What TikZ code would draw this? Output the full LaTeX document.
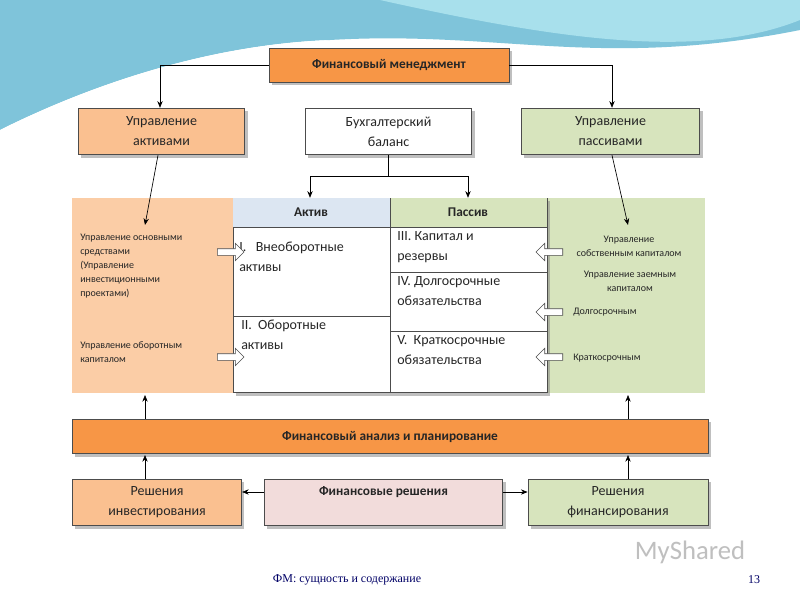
\documentclass[tikz,border=0pt]{standalone}
\usepackage{fontspec}
\setmainfont{Carlito}
\newfontfamily\serf{Liberation Serif}
\usetikzlibrary{shadows,arrows.meta,shapes.arrows}
\definecolor{org}{HTML}{F79646}
\definecolor{lorg}{HTML}{FAC090}
\definecolor{lgrn}{HTML}{D7E4BD}
\definecolor{lblu}{HTML}{DCE6F2}
\definecolor{lpnk}{HTML}{F2DCDB}
\definecolor{txt}{HTML}{262626}
\definecolor{wave1}{HTML}{7FC4DA}
\definecolor{wave2}{HTML}{A8E0EC}
\begin{document}
\begin{tikzpicture}[x=0.75pt,y=-0.75pt,
 box/.style={draw=black!70,line width=0.6pt,drop shadow={shadow xshift=2pt,shadow yshift=-2pt,opacity=0.5},text=txt,align=center,font=\fontsize{10.5}{15}\selectfont,inner sep=0pt},
 arr/.style={-{Stealth[length=5pt,width=4pt]},line width=0.5pt},
 sm/.style={font=\fontsize{7.5}{10.5}\selectfont,text=txt,inner sep=0pt},
 cell/.style={font=\fontsize{10.5}{15}\selectfont,text=txt,align=left,anchor=north west,inner sep=0pt},
 barr/.style={single arrow,draw=black!70,fill=white,minimum height=20pt,minimum width=13pt,single arrow head extend=2pt,inner sep=1pt,line width=0.5pt}]
\useasboundingbox (0,0) rectangle (800,600);
\fill[white] (0,0) rectangle (800,600);
% decorative waves
\fill[wave1] (0,0) -- (800,0) -- (800,30) .. controls (600,70) and (500,30) .. (330,40) .. controls (200,45) and (80,90) .. (0,130) -- cycle;
\fill[wave2] (380,0) -- (800,0) -- (800,20) .. controls (700,60) and (560,40) .. (380,0) -- cycle;
\fill[white] (0,130) .. controls (80,90) and (200,45) .. (330,40) .. controls (250,50) and (120,90) .. (0,150) -- cycle;
% top
\node[box,fill=org,minimum width=180pt,minimum height=25.5pt,font=\bfseries\fontsize{10}{12}\selectfont] (fmb) at (389,65) {Финансовый менеджмент};
\node[box,fill=lorg,minimum width=125pt,minimum height=35pt] (ua) at (161.5,131.5) {Управление\\активами};
\node[box,fill=white,minimum width=125pt,minimum height=35pt] (bb) at (388.5,131.5) {Бухгалтерский\\баланс};
\node[box,fill=lgrn,minimum width=134pt,minimum height=35pt] (up) at (610.5,131.5) {Управление\\пассивами};
\coordinate (fl) at (160,65); \coordinate (fr) at (612,65);
\draw[arr] (fmb.west) -- (fl) -- (ua.north -| fl);
\draw[arr] (fmb.east) -- (fr) -- (up.north -| fr);
% regions
\fill[lorg!80] (72,198) rectangle (233,393);
\fill[lgrn] (547,198) rectangle (705,393);
% table
\node[box,fill=white,minimum width=235.5pt,minimum height=146pt] (tab) at (390,295.5) {};
\fill[lblu] (233.4,198.4) rectangle (390,227);
\fill[lgrn] (390,198.4) rectangle (546.6,227);
\draw[black!70,line width=0.6pt] (233,227) -- (547,227) (390,198) -- (390,393) (233,316) -- (390,316) (390,272) -- (547,272) (390,331) -- (547,331);
\node[font=\bfseries\fontsize{10}{12}\selectfont,text=txt] (ha) at (311,212) {Актив};
\node[font=\bfseries\fontsize{10}{12}\selectfont,text=txt] (hp) at (468,212) {Пассив};
\node[cell] (c1) at (239,242) {I.\ \ \ Внеоборотные\\активы};
\node[cell] (c2) at (241,320) {II.\ \ Оборотные\\активы};
\node[cell] (c3) at (397,231) {III. Капитал и\\резервы};
\node[cell] (c4) at (397,276) {IV. Долгосрочные\\обязательства};
\node[cell] (c5) at (397,335) {V.\ \ Краткосрочные\\обязательства};
\coordinate (bj) at (388,176); \coordinate (bl) at (310,176); \coordinate (br) at (468,176);
\draw[line width=0.5pt] (bb.south -| bj) -- (bj);
\draw[arr] (bl) -- (bl |- tab.north);
\draw[arr] (br) -- (br |- tab.north);
\draw[line width=0.5pt] (bl) -- (br);
\draw[arr] (ua.south -| 158,0) -- (145,225);
\draw[arr] (up.south -| 612,0) -- (628,225);
% side texts
\node[sm,anchor=north west,align=left] (t1) at (80,234) {Управление основными\\средствами\\(Управление\\инвестиционными\\проектами)};
\node[sm,anchor=north west,align=left] (t2) at (80,341) {Управление оборотным\\капиталом};
\node[sm,align=center] (t3) at (629,246) {Управление\\собственным капиталом};
\node[sm,align=center] (t4) at (630,281) {Управление заемным\\капиталом};
\node[sm,anchor=west] (t5) at (573,312) {Долгосрочным};
\node[sm,anchor=west] (t6) at (573,358) {Краткосрочным};
% block arrows
\node[barr] (a1) at (229,252) {};
\node[barr] (a2) at (229,357) {};
\node[barr,shape border rotate=180] (a3) at (551,252) {};
\node[barr,shape border rotate=180] (a4) at (551,312) {};
\node[barr,shape border rotate=180] (a5) at (551,357) {};
% analysis bar
\node[box,fill=org,minimum width=477pt,minimum height=26pt,font=\bfseries\fontsize{10}{12}\selectfont] (fa) at (390,436.5) {Финансовый анализ и планирование};
\draw[arr] (fa.north -| 145,0) -- (145,395);
\draw[arr] (fa.north -| 628,0) -- (628,395);
% bottom
\node[box,fill=lorg,minimum width=127pt,minimum height=35pt] (ri) at (157,502.5) {Решения\\инвестирования};
\node[box,fill=lpnk,minimum width=179pt,minimum height=35pt] (fd) at (383.5,502.5) {};
\node[font=\bfseries\fontsize{10}{12}\selectfont,text=txt] (fdt) at (383.5,492) {Финансовые решения};
\node[box,fill=lgrn,minimum width=135pt,minimum height=35pt] (rf) at (618,502.5) {Решения\\финансирования};
\draw[arr] (fd.west |- 0,492) -- (ri.east |- 0,492);
\draw[arr] (fd.east |- 0,492) -- (rf.west |- 0,492);
\draw[arr] (ri.north -| 145,0) -- (145,455);
\draw[arr] (rf.north -| 628,0) -- (628,455);
% footer
\node[font=\serf\fontsize{9}{11}\selectfont,text=black!60!blue] (ft) at (347,580) {ФМ: сущность и содержание};
\node[font=\serf\fontsize{9}{11}\selectfont,text=black!60!blue] (pg) at (754,580) {13};
\node[font=\fontsize{20}{22}\selectfont,text=black!25] (ms) at (690,552) {MyShared};
\end{tikzpicture}
\end{document}
